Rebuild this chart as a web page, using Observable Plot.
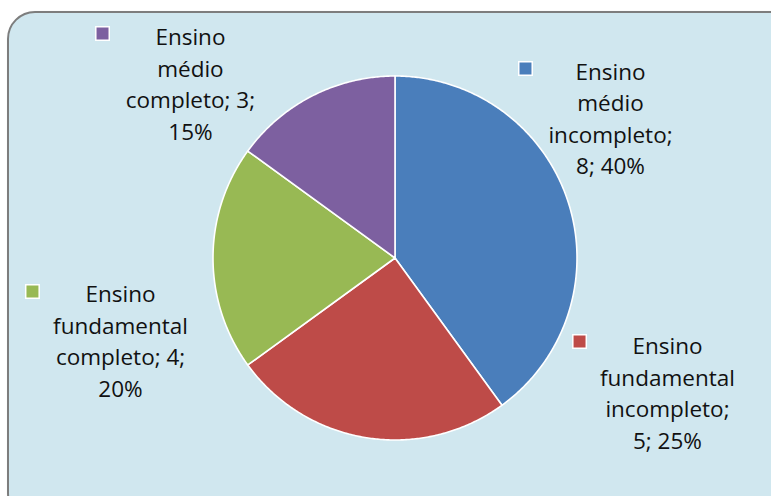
<!DOCTYPE html>
<html>
<head>
<meta charset="utf-8">
<script src="https://cdn.jsdelivr.net/npm/d3@7"></script>
<script src="https://cdn.jsdelivr.net/npm/@observablehq/plot@0.6"></script>
<style>
  html, body { margin: 0; padding: 0; background: #ffffff; }
  #wrap { position: relative; width: 771px; height: 496px; overflow: hidden; }
  #panel {
    position: absolute; left: 7px; top: 11px; width: 790px; height: 510px;
    box-sizing: border-box; border: 2px solid #7d7d7d; border-radius: 28px;
    background: #d0e7ef; box-shadow: 1px 1px 2px rgba(0,0,0,0.25);
  }
  #chart { position: absolute; left: 0; top: 0; }
  #chart svg { background: transparent; }
</style>
</head>
<body>
<div id="wrap"><div id="panel"></div><div id="chart"></div></div>
<script>
// ---- data ----
const categories = [
  "Ensino médio incompleto",
  "Ensino fundamental incompleto",
  "Ensino fundamental completo",
  "Ensino médio completo"
];
const counts = [8, 5, 4, 3];
const percents = [40, 25, 20, 15];
const labelTexts = [
  "Ensino\nmédio\nincompleto;\n8; 40%",
  "Ensino\nfundamental\nincompleto;\n5; 25%",
  "Ensino\nfundamental\ncompleto; 4;\n20%",
  "Ensino\nmédio\ncompleto; 3;\n15%"
];
const colors = ["#4a7ebb", "#be4b48", "#98b954", "#7d60a0"];

// ---- layout (in pie-radius units) ----
const W = 771, H = 496, cx = 394.5, cy = 257.5, R = 182;
const labelPos = [[1.184, 0.775], [1.497, -0.734], [-1.508, -0.448], [-1.124, 0.964]];
const keyPos = [[0.717, 1.041], [1.014, -0.459], [-1.992, -0.184], [-1.607, 1.234]];

const arcs = d3.pie().sort(null).value(d => d)(counts);
const slices = arcs.map((a, i) => {
  const pts = [{x: 0, y: 0}];
  const n = Math.max(2, Math.ceil((a.endAngle - a.startAngle) / (Math.PI / 360)));
  for (let k = 0; k <= n; k++) {
    const t = a.startAngle + (a.endAngle - a.startAngle) * k / n;
    pts.push({x: Math.sin(t), y: Math.cos(t)});
  }
  pts.push({x: 0, y: 0});
  return pts;
});

const labels = categories.map((c, i) => ({
  text: labelTexts[i], x: labelPos[i][0], y: labelPos[i][1],
  kx: keyPos[i][0], ky: keyPos[i][1], color: colors[i]
}));

const chart = Plot.plot({
  width: W, height: H,
  margin: 0,
  x: {domain: [-cx / R, (W - cx) / R], axis: null},
  y: {domain: [-(H - cy) / R, cy / R], axis: null},
  style: {background: "transparent"},
  marks: [
    ...slices.map((pts, i) => Plot.line(pts, {
      x: "x", y: "y", fill: colors[i], stroke: "#ffffff", strokeWidth: 1.6,
      strokeLinejoin: "round"
    })),
    Plot.dot(labels, {
      x: "kx", y: "ky", symbol: "square", r: 7.6, fill: d => d.color,
      stroke: "#ffffff", strokeWidth: 1.5
    }),
    Plot.text(labels, {
      x: "x", y: "y", text: "text", fontSize: 22.5, lineHeight: 1.4,
      fill: "#111111", textAnchor: "middle", lineAnchor: "middle",
      fontFamily: "'Open Sans', sans-serif"
    })
  ]
});
document.getElementById("chart").appendChild(chart);
</script>
</body>
</html>
